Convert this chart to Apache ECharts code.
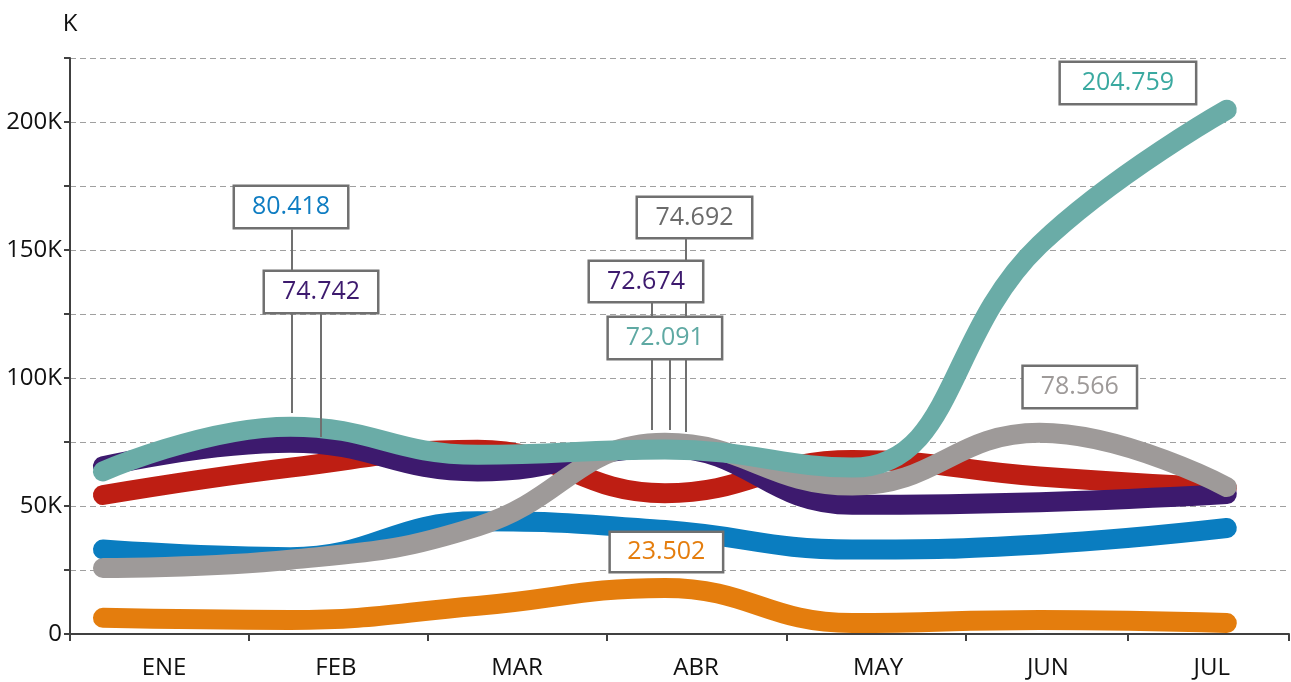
<!DOCTYPE html>
<html>
<head>
<meta charset="utf-8">
<script src="https://cdn.jsdelivr.net/npm/echarts@6/dist/echarts.min.js"></script>
<style>
  html, body { margin: 0; padding: 0; background: #fff; }
  #chart { width: 1291px; height: 682px; }
</style>
</head>
<body>
<div id="chart"></div>
<script>
// months along the x axis
const months = ["ENE", "FEB", "MAR", "ABR", "MAY", "JUN", "JUL"];

// series values
const teal = [63500, 81000, 70000, 72100, 65000, 152000, 204800];
const purple = [65500, 74700, 63500, 72700, 50500, 51500, 54700];
const red = [54300, 65000, 72000, 55000, 68000, 61500, 57000];
const blue = [33000, 30000, 44000, 40600, 33000, 35000, 41400];
const grey = [25800, 29000, 42000, 74700, 58000, 78600, 57400];
const orange = [6300, 5500, 11000, 18000, 4300, 5500, 4300];

// y tick labels (every other 25K grid line)
const yTicks = [0, 50000, 100000, 150000, 200000];

// callout boxes: text, colour, box centre [x, y], box size, optional leader line [x, yFrom, yTo]
const callouts = [
  { text: "80.418", color: "#0f7dc2", at: [1.004, 166800], size: [116, 44], leader: [1.009, 158000, 86300] },
  { text: "74.742", color: "#3d1a6e", at: [1.164, 133600], size: [116, 44], leader: [1.164, 125000, 77000] },
  { text: "74.692", color: "#6b6b6b", at: [3.158, 162700], size: [117, 43], leader: [3.112, 154300, 78900] },
  { text: "72.674", color: "#3d1a6e", at: [2.899, 137700], size: [116, 43], leader: [2.931, 129300, 79700] },
  { text: "72.091", color: "#5fa9a3", at: [3.0, 115600], size: [116, 44], leader: [3.027, 107000, 79700] },
  { text: "23.502", color: "#e47d0d", at: [3.008, 32000], size: [115, 42] },
  { text: "204.759", color: "#3aa9a0", at: [5.472, 215200], size: [138, 44] },
  { text: "78.566", color: "#9e9a99", at: [5.215, 96500], size: [116, 44] }
];

// x axis layout in data units (point i sits at i)
const xMin = -0.176, xMax = 6.332;
const xTickAt = [-0.176, 0.78, 1.735, 2.69, 3.652, 4.607, 5.473, 6.332];
const xLabelAt = [0.326, 1.244, 2.21, 3.166, 4.138, 5.045, 5.92];

const font = "'Open Sans', sans-serif";
const toXY = (vals) => vals.map((v, i) => [i, v]);

function lineSeries(name, vals, color) {
  return {
    name,
    type: "line",
    data: toXY(vals),
    smooth: 0.45,
    symbol: "none",
    lineStyle: { color, width: 20, cap: "round", join: "round" }
  };
}

const chart = echarts.init(document.getElementById("chart"));

chart.setOption({
  animation: false,
  backgroundColor: "#fff",
  textStyle: { fontFamily: font },
  grid: { left: 70, right: 2, top: 58, bottom: 48 },
  xAxis: {
    type: "value",
    min: xMin,
    max: xMax,
    axisLine: { show: true, onZero: false, lineStyle: { color: "#404040", width: 2 } },
    axisTick: { show: true, customValues: xTickAt, length: 7, lineStyle: { color: "#404040", width: 2 } },
    axisLabel: {
      customValues: xLabelAt,
      margin: 22,
      fontSize: 24,
      fontFamily: font,
      color: "#111",
      formatter: (v) => {
        const i = xLabelAt.findIndex((p) => Math.abs(p - v) < 1e-6);
        return i >= 0 ? months[i] : "";
      }
    },
    splitLine: { show: false }
  },
  yAxis: {
    type: "value",
    min: 0,
    max: 225000,
    interval: 25000,
    name: "K",
    nameLocation: "end",
    nameGap: 22,
    nameTextStyle: { fontSize: 24, fontFamily: font, color: "#111", align: "center" },
    axisLine: { show: true, onZero: false, lineStyle: { color: "#404040", width: 2 } },
    axisTick: { show: true, length: 6, lineStyle: { color: "#404040", width: 2 } },
    axisLabel: {
      margin: 8,
      fontSize: 24,
      fontFamily: font,
      color: "#111",
      formatter: (v) => (yTicks.includes(v) ? (v === 0 ? "0" : v / 1000 + "K") : "")
    },
    splitLine: { lineStyle: { color: "#a0a0a0", width: 1, type: [6, 4] } }
  },
  series: [
    lineSeries("orange", orange, "#e47d0d"),
    lineSeries("blue", blue, "#0a7dc0"),
    lineSeries("red", red, "#be1e13"),
    lineSeries("purple", purple, "#3d1a6e"),
    lineSeries("grey", grey, "#9e9a99"),
    lineSeries("teal", teal, "#6aaca7"),
    {
      name: "callouts",
      type: "line",
      data: [],
      symbol: "none",
      z: 10,
      markLine: {
        silent: true,
        symbol: "none",
        label: { show: false },
        lineStyle: { color: "#707070", width: 2, type: "solid" },
        data: callouts
          .filter((c) => c.leader)
          .map((c) => [
            { coord: [c.leader[0], c.leader[1]] },
            { coord: [c.leader[0], c.leader[2]] }
          ])
      },
      markPoint: {
        silent: true,
        data: callouts.map((c) => ({
          coord: c.at,
          symbol: "circle",
          symbolSize: 1,
          itemStyle: { color: "rgba(0,0,0,0)" },
          label: {
            show: true,
            position: "inside",
            formatter: c.text,
            color: c.color,
            fontSize: 25,
            fontFamily: font,
            width: c.size[0] - 4,
            height: c.size[1] - 4,
            lineHeight: c.size[1] - 4,
            align: "center",
            verticalAlign: "middle",
            padding: 0,
            backgroundColor: "#fff",
            borderColor: "#707070",
            borderWidth: 2.5
          }
        }))
      }
    }
  ]
});

window.addEventListener("resize", () => chart.resize());
</script>
</body>
</html>
